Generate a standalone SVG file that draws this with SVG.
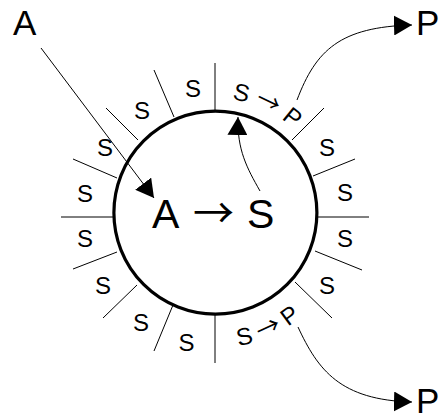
<svg xmlns="http://www.w3.org/2000/svg" width="441" height="416" viewBox="0 0 441 416">
<style>
text{font-family:"Liberation Sans",Arial,sans-serif;fill:#000}
.s{font-size:24px;text-anchor:middle}
.big{font-size:35px}
.arr{font-family:"Noto Sans CJK SC","DejaVu Sans",sans-serif}
.spoke{stroke:#000;stroke-width:1;fill:none}
.conn{stroke:#000;stroke-width:1;fill:none;marker-end:url(#ah)}
</style>
<defs>
<marker id="ah" markerUnits="userSpaceOnUse" markerWidth="18" markerHeight="20" viewBox="0 0 18 20" refX="18" refY="10" orient="auto"><path d="M0,0 L18,10 L0,20 z" fill="#000"/></marker>
<path id="arcTop" d="M157.5,113.4 A115,115 0 0 1 328.3,193"/>
<path id="arcBot" d="M147.5,329.9 A135,135 0 0 0 348,236.4"/>
</defs>
<g id="cell">
<circle cx="215.4" cy="212.7" r="101.5" fill="none" stroke="#000" stroke-width="3.2"/>
<g id="spokes">
<line class="spoke" x1="215" y1="63" x2="215" y2="111"/>
<line class="spoke" x1="154" y1="70" x2="174" y2="117"/>
<line class="spoke" x1="106" y1="108" x2="138" y2="140"/>
<line class="spoke" x1="73" y1="159" x2="117" y2="178"/>
<line class="spoke" x1="61" y1="217" x2="113" y2="217"/>
<line class="spoke" x1="117" y1="252" x2="73" y2="269"/>
<line class="spoke" x1="137" y1="285" x2="103" y2="318"/>
<line class="spoke" x1="173" y1="305" x2="154" y2="351"/>
<line class="spoke" x1="215" y1="313" x2="215" y2="363"/>
<line class="spoke" x1="295" y1="282" x2="332" y2="318"/>
<line class="spoke" x1="315" y1="251" x2="362" y2="270"/>
<line class="spoke" x1="317" y1="217" x2="369" y2="217"/>
<line class="spoke" x1="313" y1="176" x2="355" y2="159"/>
<line class="spoke" x1="292" y1="140" x2="324" y2="108"/>
</g>
<g id="s-labels">
<text class="s" x="193" y="96.5">S</text>
<text class="s" x="142" y="118.5">S</text>
<text class="s" x="105" y="155.5">S</text>
<text class="s" x="85" y="201.5">S</text>
<text class="s" x="85" y="246.5">S</text>
<text class="s" x="103" y="293.5">S</text>
<text class="s" x="141" y="330.5">S</text>
<text class="s" x="186.5" y="350.5">S</text>
<text class="s" x="345" y="246.5">S</text>
<text class="s" x="327" y="293.5">S</text>
<text class="s" x="327" y="155.5">S</text>
<text class="s" x="345" y="200.5">S</text>
</g>
</g>
<g id="reaction">
<text font-size="41" y="228"><tspan x="152">A</tspan> <tspan class="arr" x="193">→</tspan> <tspan x="247">S</tspan></text>
</g>
<g id="membrane-sp-top">
<text font-size="24"><textPath href="#arcTop" startOffset="111.8" text-anchor="middle">S <tspan class="arr">→</tspan> P</textPath></text>
</g>
<g id="membrane-sp-bottom">
<text font-size="24"><textPath href="#arcBot" startOffset="129" text-anchor="middle">S <tspan class="arr">→</tspan> P</textPath></text>
</g>
<g id="A-in"><text class="big" x="13" y="35">A</text></g>
<g id="P-out-top"><text class="big" x="416" y="35">P</text></g>
<g id="P-out-bottom"><text class="big" x="416" y="413">P</text></g>
<g id="connectors">
<path class="conn" d="M41,48 L154,198"/>
<path class="conn" d="M260,191 C247,168 237,150 238,117"/>
<path class="conn" d="M297,100 C316,50 340,27 412,25"/>
<path class="conn" d="M298,327 C318,370 340,400 412,402"/>
</g>
</svg>
